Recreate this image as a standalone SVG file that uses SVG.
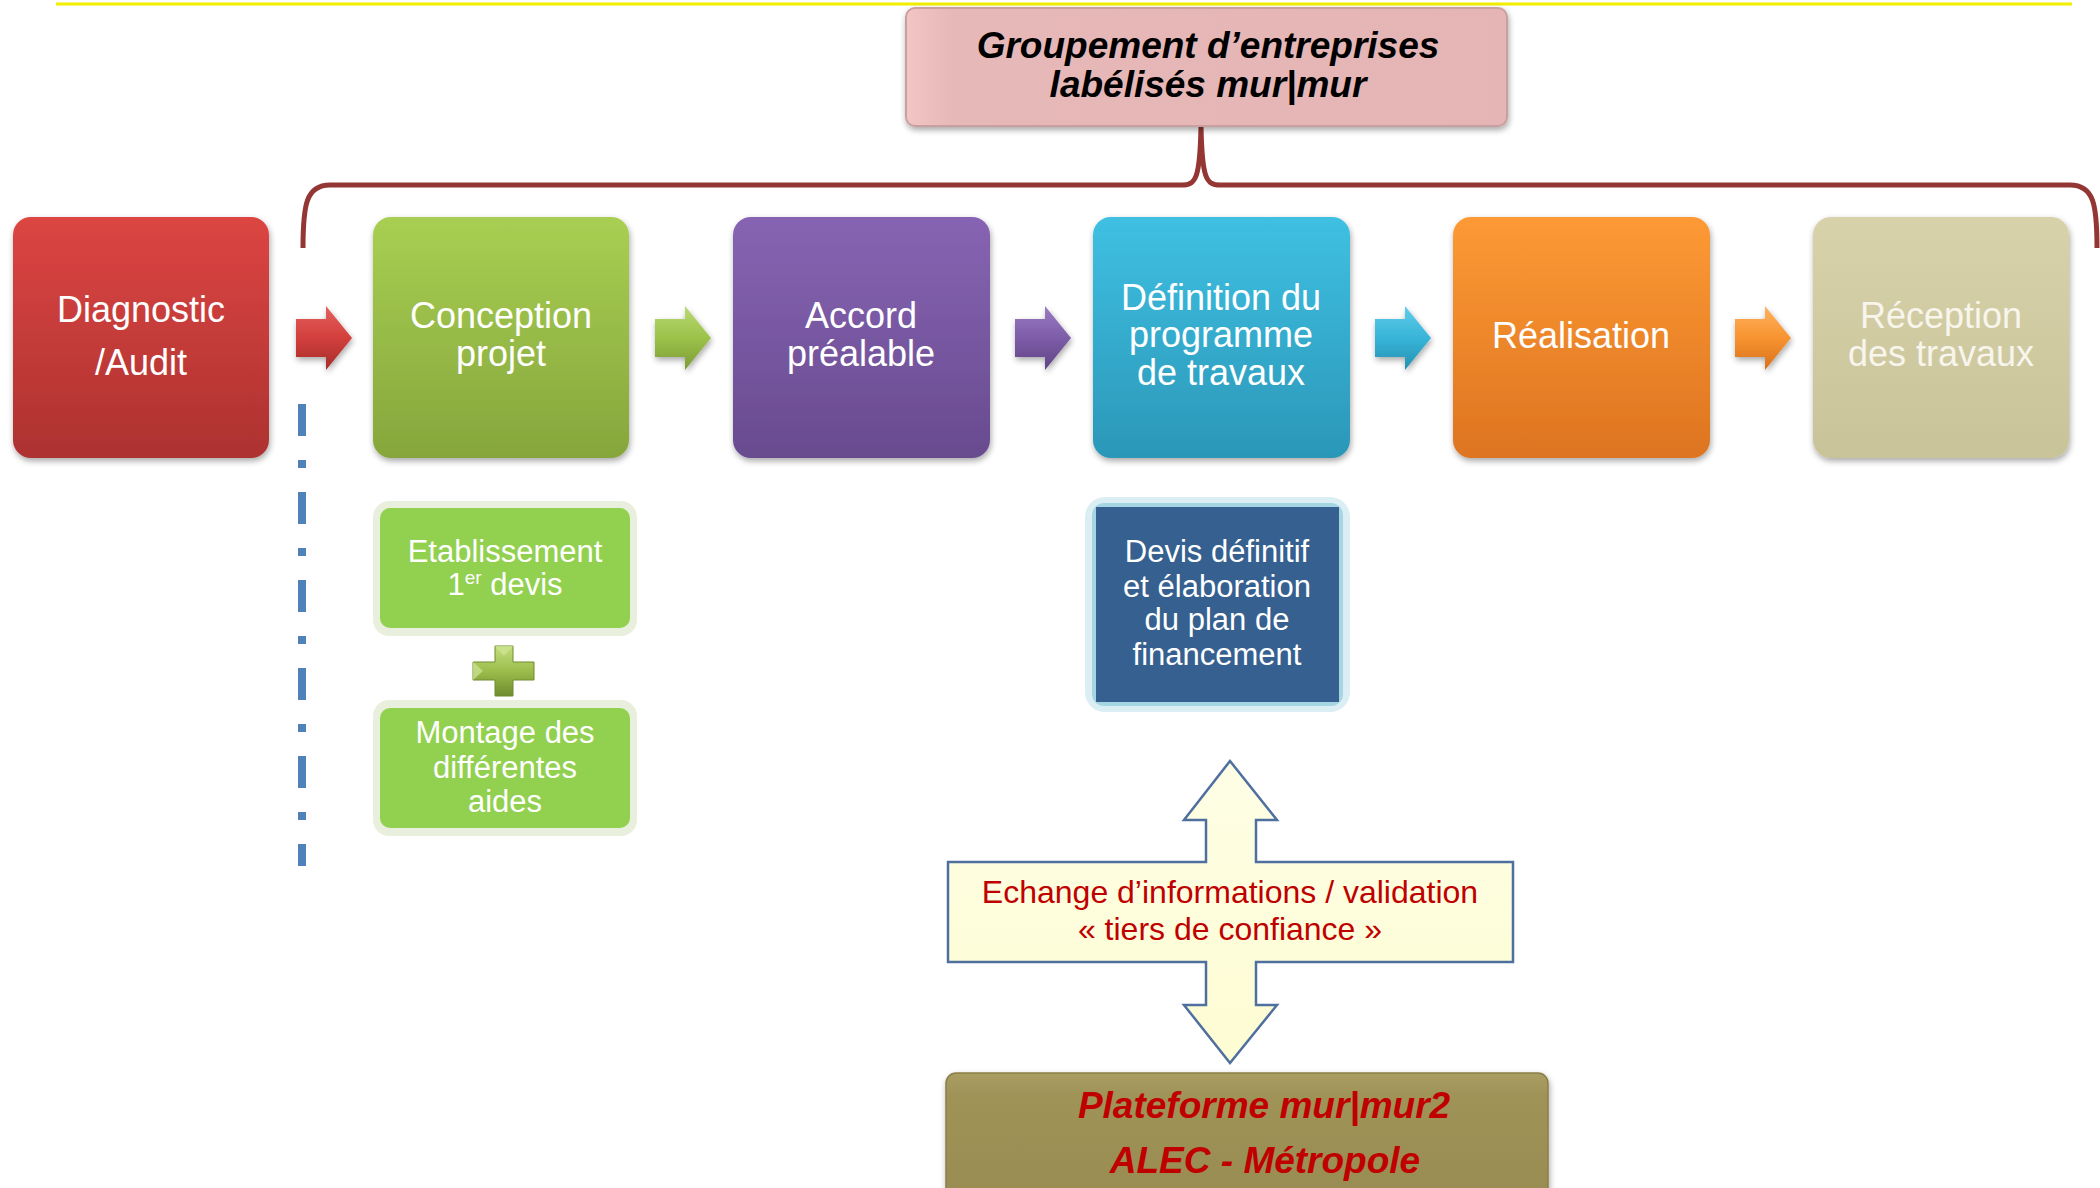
<svg xmlns="http://www.w3.org/2000/svg" width="2100" height="1188" viewBox="0 0 2100 1188">
<defs>
<style>
.t{font-family:"Liberation Sans",Arial,sans-serif;text-anchor:middle}
.box{font-size:36px;fill:#ffffff}
.sub{font-size:31px;fill:#ffffff}
.bi{font-weight:bold;font-style:italic}
</style>
<filter id="sh" x="-10%" y="-10%" width="120%" height="125%">
<feGaussianBlur in="SourceAlpha" stdDeviation="3"/>
<feOffset dx="1" dy="3" result="b"/>
<feComponentTransfer><feFuncA type="linear" slope="0.35"/></feComponentTransfer>
<feMerge><feMergeNode/><feMergeNode in="SourceGraphic"/></feMerge>
</filter>
<linearGradient id="gRed" x1="0" y1="0" x2="0" y2="1"><stop offset="0" stop-color="#dc4542"/><stop offset="1" stop-color="#ad3230"/></linearGradient>
<linearGradient id="gGreen" x1="0" y1="0" x2="0" y2="1"><stop offset="0" stop-color="#a8cf52"/><stop offset="1" stop-color="#86a63c"/></linearGradient>
<linearGradient id="gPurple" x1="0" y1="0" x2="0" y2="1"><stop offset="0" stop-color="#8764b3"/><stop offset="1" stop-color="#684b8f"/></linearGradient>
<linearGradient id="gBlue" x1="0" y1="0" x2="0" y2="1"><stop offset="0" stop-color="#3fc0e2"/><stop offset="1" stop-color="#2b97b8"/></linearGradient>
<linearGradient id="gOrange" x1="0" y1="0" x2="0" y2="1"><stop offset="0" stop-color="#fd9a35"/><stop offset="1" stop-color="#dd7420"/></linearGradient>
<linearGradient id="gBeige" x1="0" y1="0" x2="0" y2="1"><stop offset="0" stop-color="#d8d2aa"/><stop offset="1" stop-color="#c9c39a"/></linearGradient>
<linearGradient id="gPink" x1="0" y1="0" x2="1" y2="0"><stop offset="0" stop-color="#f2c6c5"/><stop offset="0.08" stop-color="#e6b8b7"/><stop offset="1" stop-color="#e4b5b4"/></linearGradient>
<linearGradient id="gOlive" x1="0" y1="0" x2="0" y2="1"><stop offset="0" stop-color="#aa9e63"/><stop offset="0.15" stop-color="#9f9358"/><stop offset="1" stop-color="#978b50"/></linearGradient>
<linearGradient id="gYel" x1="0" y1="0" x2="0" y2="1"><stop offset="0" stop-color="#fefee6"/><stop offset="1" stop-color="#fdfcd2"/></linearGradient>
<linearGradient id="aRed" x1="0" y1="0" x2="0" y2="1"><stop offset="0" stop-color="#e4605d"/><stop offset="0.5" stop-color="#d23f3c"/><stop offset="1" stop-color="#a52d2b"/></linearGradient>
<linearGradient id="aGreen" x1="0" y1="0" x2="0" y2="1"><stop offset="0" stop-color="#b9d974"/><stop offset="0.5" stop-color="#9cc24a"/><stop offset="1" stop-color="#7c9b35"/></linearGradient>
<linearGradient id="aPurple" x1="0" y1="0" x2="0" y2="1"><stop offset="0" stop-color="#9a7cc2"/><stop offset="0.5" stop-color="#7d5ca8"/><stop offset="1" stop-color="#5f4485"/></linearGradient>
<linearGradient id="aBlue" x1="0" y1="0" x2="0" y2="1"><stop offset="0" stop-color="#62cdea"/><stop offset="0.5" stop-color="#37b4d8"/><stop offset="1" stop-color="#2690b0"/></linearGradient>
<linearGradient id="aOrange" x1="0" y1="0" x2="0" y2="1"><stop offset="0" stop-color="#ffb25f"/><stop offset="0.5" stop-color="#f79430"/><stop offset="1" stop-color="#d8701c"/></linearGradient>
<linearGradient id="aPlus" x1="0" y1="0" x2="0" y2="1"><stop offset="0" stop-color="#c3de7e"/><stop offset="0.5" stop-color="#9cbd4c"/><stop offset="1" stop-color="#6f8c2f"/></linearGradient>
<path id="chev" d="M0,-19 L30,-19 L30,-32 L56,0 L30,32 L30,19 L0,19 Z"/>
</defs>

<rect width="2100" height="1188" fill="#ffffff"/>

<line x1="56" y1="4" x2="2072" y2="4" stroke="#f2ee00" stroke-width="3"/>

<g id="connectors">
<path d="M303,248 C303,205 306,185 330,185 L1182,185 C1196,185 1200,178 1201,126 C1202,178 1206,185 1220,185 L2070,185 C2094,185 2097,205 2097,248" fill="none" stroke="#943634" stroke-width="5"/>
<line x1="302" y1="404" x2="302" y2="866" stroke="#4f81bd" stroke-width="8" stroke-dasharray="32 24 8 24"/>
<use href="#chev" x="296" y="338" fill="url(#aRed)" filter="url(#sh)"/>
<use href="#chev" x="655" y="338" fill="url(#aGreen)" filter="url(#sh)"/>
<use href="#chev" x="1015" y="338" fill="url(#aPurple)" filter="url(#sh)"/>
<use href="#chev" x="1375" y="338" fill="url(#aBlue)" filter="url(#sh)"/>
<use href="#chev" x="1735" y="338" fill="url(#aOrange)" filter="url(#sh)"/>
</g>

<g id="top-groupement">
<rect x="906" y="8" width="601" height="118" rx="9" fill="url(#gPink)" stroke="#c9a09f" stroke-width="2" filter="url(#sh)"/>
<text class="t bi" x="1208" y="58" font-size="37" fill="#000000">Groupement d’entreprises</text>
<text class="t bi" x="1208" y="97" font-size="37" fill="#000000">labélisés mur|mur</text>
</g>

<g id="diagnostic">
<rect x="13" y="217" width="256" height="241" rx="18" fill="url(#gRed)" filter="url(#sh)"/>
<text class="t box" x="141" y="322">Diagnostic</text>
<text class="t box" x="141" y="375">/Audit</text>
</g>

<g id="conception">
<rect x="373" y="217" width="256" height="241" rx="18" fill="url(#gGreen)" filter="url(#sh)"/>
<text class="t box" x="501" y="328">Conception</text>
<text class="t box" x="501" y="366">projet</text>
</g>

<g id="accord">
<rect x="733" y="217" width="257" height="241" rx="18" fill="url(#gPurple)" filter="url(#sh)"/>
<text class="t box" x="861" y="328">Accord</text>
<text class="t box" x="861" y="366">préalable</text>
</g>

<g id="definition">
<rect x="1093" y="217" width="257" height="241" rx="18" fill="url(#gBlue)" filter="url(#sh)"/>
<text class="t box" x="1221" y="310">Définition du</text>
<text class="t box" x="1221" y="347">programme</text>
<text class="t box" x="1221" y="385">de travaux</text>
</g>

<g id="realisation">
<rect x="1453" y="217" width="257" height="241" rx="18" fill="url(#gOrange)" filter="url(#sh)"/>
<text class="t box" x="1581" y="348">Réalisation</text>
</g>

<g id="reception">
<rect x="1813" y="217" width="256" height="241" rx="18" fill="url(#gBeige)" filter="url(#sh)"/>
<text class="t box" x="1941" y="328" style="fill:#f7f5ec">Réception</text>
<text class="t box" x="1941" y="366" style="fill:#f7f5ec">des travaux</text>
</g>

<g id="etablissement">
<rect x="373" y="501" width="264" height="135" rx="16" fill="#e9efdd"/>
<rect x="380" y="508" width="250" height="120" rx="10" fill="#92d050"/>
<text class="t sub" x="505" y="562">Etablissement</text>
<text class="t sub" x="505" y="595">1<tspan font-size="19" dy="-11">er</tspan><tspan dy="11"> devis</tspan></text>
</g>

<g id="plus">
<path d="M495,646 L513,646 L513,662 L534,662 L534,680 L513,680 L513,696 L495,696 L495,680 L473,680 L473,662 L495,662 Z" fill="url(#aPlus)" stroke="#6f8c2f" stroke-width="1"/>
<path d="M495,646 L513,646 L504,656 Z M473,662 L473,680 L483,671 Z" fill="#cfe695" opacity="0.7"/>
</g>

<g id="montage">
<rect x="373" y="700" width="264" height="136" rx="16" fill="#e9efdd"/>
<rect x="380" y="708" width="250" height="120" rx="10" fill="#92d050"/>
<text class="t sub" x="505" y="743">Montage des</text>
<text class="t sub" x="505" y="778">différentes</text>
<text class="t sub" x="505" y="812">aides</text>
</g>

<g id="devis">
<rect x="1085" y="497" width="265" height="215" rx="20" fill="#daeef3"/>
<rect x="1092" y="503" width="251" height="203" rx="12" fill="#a5d5e2"/>
<rect x="1096" y="507" width="243" height="195" fill="#36608f"/>
<text class="t sub" x="1217" y="562">Devis définitif</text>
<text class="t sub" x="1217" y="597">et élaboration</text>
<text class="t sub" x="1217" y="630">du plan de</text>
<text class="t sub" x="1217" y="665">financement</text>
</g>

<g id="echange">
<path d="M1230,761 L1277,820 L1256,820 L1256,862 L1513,862 L1513,962 L1256,962 L1256,1005 L1277,1005 L1230,1063 L1184,1005 L1206,1005 L1206,962 L948,962 L948,862 L1206,862 L1206,820 L1184,820 Z" fill="url(#gYel)" stroke="#4f6f9f" stroke-width="2.5" stroke-linejoin="miter"/>
<text class="t" x="1230" y="903" font-size="32" fill="#c00000">Echange d’informations / validation</text>
<text class="t" x="1230" y="940" font-size="32" fill="#c00000">« tiers de confiance »</text>
</g>

<g id="plateforme">
<rect x="946" y="1073" width="602" height="140" rx="10" fill="url(#gOlive)" stroke="#8a7f48" stroke-width="1.5" filter="url(#sh)"/>
<text class="t bi" x="1264" y="1118" font-size="37" fill="#c00000">Plateforme mur|mur2</text>
<text class="t bi" x="1265" y="1173" font-size="37" fill="#c00000">ALEC - Métropole</text>
</g>
</svg>
